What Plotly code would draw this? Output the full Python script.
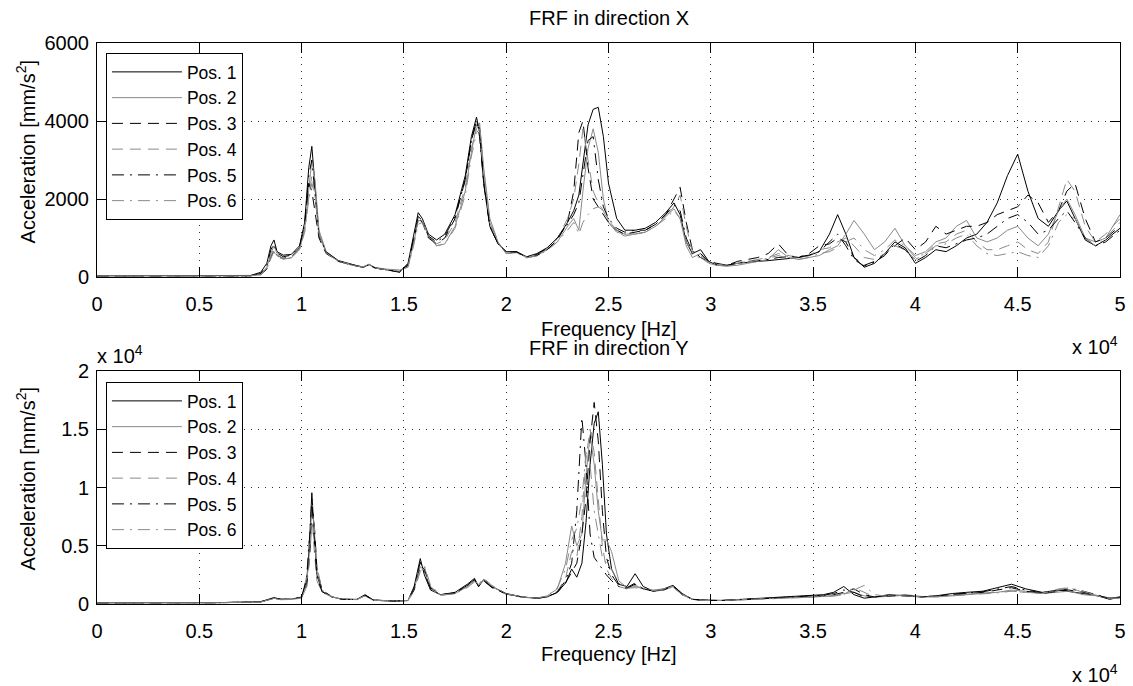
import plotly.graph_objects as go

# ---------------- data ----------------
FREQ_X = [0, 3000, 6000, 7500, 8000, 8300, 8500, 8650, 8800, 9100,
          9500, 9900, 10150, 10350, 10500, 10650, 10850, 11200, 11800, 12500,
          13000, 13300, 13600, 14200, 14800, 15200, 15450, 15700, 15900, 16200,
          16600, 17000, 17500, 18000, 18300, 18550, 18700, 18900, 19200, 19600,
          20000, 20500, 21000, 21500, 22000, 22500, 23000, 23300, 23550, 23750,
          24000, 24250, 24500, 24750, 25000, 25400, 25800, 26300, 26800, 27300,
          27800, 28200, 28500, 28800, 29100, 29500, 29900, 30300, 30800, 31300,
          31800, 32300, 32800, 33300, 33800, 34300, 34800, 35300, 35800, 36200,
          36600, 37000, 37500, 38000, 38500, 39000, 39500, 40000, 40500, 41000,
          41500, 42000, 42500, 43000, 43500, 44000, 44500, 45000, 45500, 46000,
          46500, 47000, 47400, 47800, 48300, 48800, 49300, 50000]

X_POS1 = [30, 30, 30, 40, 120, 350, 800, 950, 650, 560,
          580, 800, 1400, 2800, 3350, 2300, 1100, 650, 420, 320,
          250, 320, 230, 180, 130, 350, 1000, 1650, 1500, 1100,
          950, 1100, 1600, 2600, 3600, 4100, 3700, 2400, 1300, 850,
          650, 650, 520, 600, 750, 1000, 1400, 1700, 2100, 2900,
          3900, 4300, 4350, 3600, 2400, 1500, 1200, 1200, 1250, 1400,
          1650, 1900, 1600, 900, 600, 700, 400, 300, 300, 350,
          380, 400, 420, 450, 480, 500, 550, 650, 1100, 1600,
          1100, 500, 250, 350, 600, 900, 750, 350, 500, 700,
          650, 800, 1000, 1100, 1400, 1900, 2600, 3150, 2200, 1500,
          1300, 1700, 1950, 1500, 950, 800, 950, 1250]
X_POS2 = [30, 30, 30, 30, 80, 250, 600, 800, 600, 450,
          500, 700, 1200, 2300, 3000, 2500, 1200, 650, 400, 300,
          260, 330, 240, 200, 180, 250, 800, 1450, 1450, 1050,
          800, 850, 1300, 2200, 3200, 3900, 3950, 2800, 1500, 900,
          600, 650, 500, 550, 700, 900, 1300, 1500, 1200, 2200,
          3300, 3800, 3200, 2000, 1400, 1150, 1100, 1100, 1150, 1300,
          1550, 1750, 1500, 800, 500, 600, 350, 300, 280, 300,
          350, 400, 450, 700, 500, 450, 500, 550, 700, 800,
          1100, 1450, 1100, 700, 900, 1250, 800, 550, 650, 900,
          1000, 1300, 1450, 1000, 900, 1000, 1200, 1300, 1000, 800,
          1100, 1700, 2000, 1600, 1000, 900, 1000, 1600]
X_POS3 = [30, 30, 30, 30, 60, 200, 500, 700, 550, 480,
          520, 750, 1300, 2400, 2200, 1700, 1000, 600, 400, 300,
          250, 300, 230, 180, 120, 300, 900, 1500, 1400, 1000,
          850, 1000, 1500, 2500, 3500, 4000, 3800, 2500, 1300, 850,
          650, 650, 500, 550, 700, 950, 1400, 2200, 3700, 4000,
          2800, 2000, 1800, 1600, 1400, 1200, 1100, 1150, 1200, 1350,
          1600, 2000, 2300, 1400, 700, 500, 400, 350, 300, 400,
          450, 500, 600, 850, 550, 500, 600, 800, 850, 1000,
          900, 500, 300, 400, 600, 800, 1000, 700, 900, 1300,
          1100, 1200, 1300, 1300, 1400, 1600, 1700, 1800, 2100, 1900,
          1400, 1700, 2200, 2400, 1500, 900, 1000, 1300]
X_POS4 = [30, 30, 30, 30, 70, 220, 550, 700, 560, 470,
          510, 720, 1250, 2100, 2600, 2200, 1100, 620, 400, 310,
          260, 320, 240, 190, 150, 280, 850, 1450, 1450, 1050,
          850, 950, 1400, 2300, 3300, 3800, 3900, 2700, 1400, 850,
          620, 620, 500, 560, 720, 980, 1500, 2000, 2900, 3800,
          3000, 2200, 1900, 1700, 1400, 1150, 1050, 1100, 1150, 1300,
          1550, 1800, 2100, 1300, 650, 550, 380, 320, 300, 350,
          400, 450, 500, 600, 550, 500, 550, 700, 750, 900,
          1000, 800, 500, 450, 600, 800, 700, 450, 600, 850,
          900, 1100, 1200, 900, 700, 700, 800, 900, 700, 600,
          900, 1800, 2500, 2200, 1300, 900, 1100, 1500]
X_POS5 = [30, 30, 30, 30, 90, 300, 700, 850, 620, 520,
          560, 780, 1350, 2600, 3000, 2100, 1050, 640, 410, 310,
          250, 310, 230, 180, 140, 320, 950, 1550, 1450, 1050,
          900, 1050, 1550, 2500, 3500, 4000, 3600, 2400, 1300, 850,
          640, 640, 510, 580, 740, 1000, 1350, 1600, 1900, 2600,
          3500, 3600, 2500, 1800, 1500, 1250, 1150, 1200, 1200, 1350,
          1600, 1850, 1700, 1000, 650, 600, 400, 320, 300, 360,
          400, 420, 450, 500, 520, 520, 560, 650, 900, 1100,
          800, 450, 280, 380, 550, 850, 700, 400, 550, 800,
          750, 850, 950, 1000, 1100, 1300, 1500, 1600, 1400, 1100,
          1200, 1500, 1700, 1400, 1000, 800, 900, 1200]
X_POS6 = [30, 30, 30, 30, 60, 200, 480, 650, 520, 450,
          490, 700, 1150, 2000, 2400, 2100, 1100, 620, 400, 300,
          250, 310, 230, 180, 160, 260, 750, 1350, 1400, 1050,
          800, 850, 1250, 2100, 3100, 3700, 3800, 2700, 1450, 880,
          600, 620, 490, 540, 680, 900, 1200, 1400, 1100, 1400,
          1600, 1750, 1800, 1700, 1450, 1200, 1100, 1100, 1150, 1300,
          1500, 1700, 1500, 900, 550, 500, 350, 300, 280, 320,
          380, 430, 480, 550, 480, 450, 500, 600, 650, 750,
          900, 1000, 700, 550, 700, 950, 800, 500, 600, 800,
          850, 1000, 1100, 800, 600, 550, 600, 650, 550, 500,
          800, 1400, 1600, 1500, 1000, 800, 1000, 1400]

FREQ_Y = [0, 3000, 6000, 8000, 8400, 8650, 9000, 9500, 10000, 10250,
          10400, 10500, 10600, 10750, 11000, 11500, 12000, 12700, 13100, 13500,
          14500, 15200, 15500, 15800, 16000, 16300, 16800, 17500, 18100, 18450,
          18650, 18900, 19300, 20000, 20800, 21500, 22000, 22500, 22900, 23200,
          23450, 23700, 23900, 24100, 24300, 24500, 24700, 24900, 25150, 25500,
          25900, 26300, 26700, 27200, 27700, 28150, 28600, 29100, 29700, 30500,
          31500, 32500, 33500, 34500, 35500, 36000, 36500, 37000, 37500, 38000,
          38700, 39500, 40300, 41000, 41800, 42500, 43300, 44000, 44700, 45400,
          46200, 47000, 47500, 48200, 48900, 49500, 50000]

Y_POS1 = [100, 100, 120, 200, 400, 550, 400, 420, 600, 2000,
          5500, 9550, 6500, 2500, 1100, 600, 400, 400, 800, 350,
          250, 300, 1500, 3900, 2500, 1200, 800, 1000, 1700, 2200,
          1500, 2100, 1500, 900, 600, 500, 600, 1000, 1800, 3000,
          2300, 3500, 7000, 12000, 15500, 16500, 12000, 6000, 3000, 1700,
          1500, 2600, 1500, 1100, 1300, 1600, 900, 400, 350, 300,
          400, 500, 600, 650, 800, 1000, 1500, 800, 500, 600,
          800, 700, 600, 700, 900, 1000, 1100, 1400, 1700, 1300,
          1000, 1200, 1100, 900, 700, 400, 600]
Y_POS2 = [100, 100, 110, 180, 350, 480, 380, 400, 550, 1800,
          4800, 8500, 7000, 2800, 1100, 600, 400, 380, 700, 330,
          240, 300, 1300, 3200, 2900, 1300, 750, 900, 1500, 2000,
          1600, 2000, 1500, 850, 600, 500, 700, 1300, 3500, 6700,
          5000, 6000, 11000, 14500, 12000, 8000, 5500, 5500, 4500, 2000,
          1400, 1500, 1300, 1200, 1300, 1500, 800, 400, 300, 300,
          350, 450, 500, 550, 650, 700, 900, 1000, 700, 600,
          700, 800, 650, 600, 700, 800, 900, 1000, 1200, 1100,
          900, 1000, 1100, 800, 700, 500, 500]
Y_POS3 = [100, 100, 110, 180, 380, 500, 400, 410, 550, 1600,
          4200, 8000, 7500, 3000, 1200, 600, 400, 390, 750, 340,
          240, 300, 1200, 3300, 3000, 1400, 800, 950, 1600, 2100,
          1500, 2000, 1400, 850, 580, 500, 600, 1000, 1800, 2700,
          3500, 6000, 9000, 14000, 17300, 14000, 8000, 4000, 2500, 1600,
          1400, 1800, 1300, 1100, 1200, 1500, 800, 400, 300, 300,
          350, 450, 550, 600, 700, 800, 1000, 1300, 800, 600,
          700, 750, 600, 700, 800, 900, 1000, 1200, 1400, 1100,
          900, 1100, 1200, 1000, 700, 500, 600]
Y_POS4 = [100, 100, 110, 190, 360, 460, 380, 400, 520, 2400,
          6500, 8000, 5000, 2000, 1000, 580, 400, 380, 720, 330,
          240, 290, 1400, 3000, 3200, 1500, 750, 900, 1500, 2000,
          1700, 2100, 1500, 850, 580, 480, 650, 1100, 2200, 4500,
          4000, 7500, 12500, 15000, 13000, 9000, 5000, 3000, 2200, 1500,
          1300, 1600, 1300, 1100, 1200, 1500, 800, 400, 300, 300,
          350, 450, 500, 550, 650, 700, 800, 1400, 1000, 600,
          650, 750, 600, 650, 750, 850, 950, 1000, 1100, 1000,
          900, 1300, 1400, 1000, 700, 500, 600]
Y_POS5 = [100, 100, 120, 190, 390, 520, 400, 410, 580, 2200,
          6000, 9000, 6000, 2300, 1050, 590, 400, 390, 760, 340,
          245, 300, 1400, 3600, 2700, 1300, 780, 950, 1600, 2100,
          1500, 2000, 1450, 870, 590, 490, 620, 1050, 2000, 3500,
          8000, 16000, 12000, 6000, 4000, 3500, 3000, 2500, 2000, 1500,
          1350, 1700, 1300, 1100, 1250, 1550, 850, 420, 320, 300,
          380, 480, 560, 620, 750, 900, 1200, 1000, 600, 600,
          750, 700, 620, 680, 850, 950, 1050, 1300, 1500, 1200,
          950, 1150, 1300, 1100, 800, 500, 550]
Y_POS6 = [100, 100, 110, 170, 340, 450, 370, 390, 500, 1500,
          4000, 7000, 7200, 3200, 1200, 620, 410, 380, 700, 320,
          240, 290, 1100, 2800, 3300, 1600, 780, 880, 1400, 1900,
          1700, 2200, 1600, 880, 600, 500, 700, 1400, 3000, 5500,
          6500, 9000, 13000, 12000, 8000, 6000, 4000, 3500, 3000, 1800,
          1350, 1400, 1250, 1150, 1250, 1450, 800, 420, 300, 300,
          340, 440, 500, 550, 620, 680, 800, 1200, 1600, 800,
          650, 700, 600, 620, 700, 800, 900, 950, 1100, 1000,
          900, 1200, 1400, 1100, 700, 500, 500]

SERIES_NAMES = ["Pos. 1", "Pos. 2", "Pos. 3", "Pos. 4", "Pos. 5", "Pos. 6"]

X_TICK_VALUES = [0, 5000, 10000, 15000, 20000, 25000, 30000, 35000, 40000, 45000, 50000]
X_TICK_TEXT = ["0", "0.5", "1", "1.5", "2", "2.5", "3", "3.5", "4", "4.5", "5"]
YX_TICK_VALUES = [0, 2000, 4000, 6000]
YX_TICK_TEXT = ["0", "2000", "4000", "6000"]
YY_TICK_VALUES = [0, 5000, 10000, 15000, 20000]
YY_TICK_TEXT = ["0", "0.5", "1", "1.5", "2"]

# ---------------- styling ----------------
FONT = "Liberation Sans, Arial, Helvetica, sans-serif"
BLACK = "#000000"
GRAY = "#8a8a8a"
DASH = "11px,7px"
DASHDOT = "12px,6px,2px,6px"
STYLES = [(BLACK, "solid"), (GRAY, "solid"), (BLACK, DASH),
          (GRAY, DASH), (BLACK, DASHDOT), (GRAY, DASHDOT)]

fig = go.Figure()

x_series = [X_POS1, X_POS2, X_POS3, X_POS4, X_POS5, X_POS6]
y_series = [Y_POS1, Y_POS2, Y_POS3, Y_POS4, Y_POS5, Y_POS6]

for name, vals, (col, dash) in zip(SERIES_NAMES, x_series, STYLES):
    fig.add_trace(go.Scatter(x=FREQ_X, y=vals, mode="lines", name=name,
                             line=dict(color=col, width=1, dash=dash),
                             xaxis="x", yaxis="y", legend="legend"))
for name, vals, (col, dash) in zip(SERIES_NAMES, y_series, STYLES):
    fig.add_trace(go.Scatter(x=FREQ_Y, y=vals, mode="lines", name=name,
                             line=dict(color=col, width=1, dash=dash),
                             xaxis="x2", yaxis="y2", legend="legend2"))

axis_common = dict(showline=True, linecolor="black", linewidth=1, mirror="ticks",
                   ticks="inside", ticklen=10, tickwidth=1, tickcolor="black",
                   showgrid=True, gridcolor="#303030", gridwidth=1, griddash="1px,6px",
                   zeroline=False, ticklabeloverflow="allow",
                   tickfont=dict(family=FONT, size=20, color="black"))

# Figure fills the whole window (the default page body margin is removed below).
W, H = 1133, 686
L = 97
R = 7
T = 43
B = H - 604
ph = H - T - B
pw = W - L - R

def py(px):
    """paper y for a pixel row"""
    return (H - B - px) / ph

def pxx(px):
    """paper x for a pixel column"""
    return (px - L) / pw

legend_common = dict(xanchor="left", yanchor="top",
                     bgcolor="white", bordercolor="black", borderwidth=1,
                     font=dict(family=FONT, size=17.5, color="black"), itemwidth=70,
                     tracegroupgap=0)

fig.update_layout(
    width=W, height=H,
    margin=dict(l=L, r=R, t=T, b=B),
    paper_bgcolor="white", plot_bgcolor="white",
    font=dict(family=FONT, size=20, color="black"),
    xaxis=dict(domain=[0, 1], range=[0, 50000], anchor="y", ticklabelstandoff=9,
               tickmode="array", tickvals=X_TICK_VALUES, ticktext=X_TICK_TEXT, **axis_common),
    yaxis=dict(domain=[py(277), 1.0], range=[0, 6000], anchor="x", ticklabelstandoff=3,
               tickmode="array", tickvals=YX_TICK_VALUES, ticktext=YX_TICK_TEXT, **axis_common),
    xaxis2=dict(domain=[0, 1], range=[0, 50000], anchor="y2", ticklabelstandoff=9,
                tickmode="array", tickvals=X_TICK_VALUES, ticktext=X_TICK_TEXT, **axis_common),
    yaxis2=dict(domain=[0, py(371)], range=[0, 20000], anchor="x2", ticklabelstandoff=3,
                tickmode="array", tickvals=YY_TICK_VALUES, ticktext=YY_TICK_TEXT, **axis_common),
    legend=dict(x=pxx(106), y=py(53), **legend_common),
    legend2=dict(x=pxx(106), y=py(382), **legend_common),
    showlegend=True,
)

ann = dict(xref="paper", yref="paper", showarrow=False,
           font=dict(family=FONT, size=20, color="black"))
fig.add_annotation(text="FRF in direction X", x=0.5, y=py(18), xanchor="center", yanchor="middle", **ann)
fig.add_annotation(text="Frequency [Hz]", x=0.5, y=py(329), xanchor="center", yanchor="middle", **ann)
fig.add_annotation(text="FRF in direction Y", x=0.5, y=py(348), xanchor="center", yanchor="middle", **ann)
fig.add_annotation(text="x 10<sup>4</sup>", x=1.0, y=py(345), xanchor="right", yanchor="middle", **ann)
fig.add_annotation(text="x 10<sup>4</sup>", x=pxx(95), y=py(354), xanchor="left", yanchor="middle", **ann)
fig.add_annotation(text="Frequency [Hz]", x=0.5, y=py(654), xanchor="center", yanchor="middle", **ann)
fig.add_annotation(text="x 10<sup>4</sup>", x=1.0, y=py(673), xanchor="right", yanchor="middle", **ann)
fig.add_annotation(text="Acceleration [mm/s<sup>2</sup>]", x=pxx(25), y=py(152),
                   xanchor="center", yanchor="middle", textangle=-90, **ann)
fig.add_annotation(text="Acceleration [mm/s<sup>2</sup>]", x=pxx(25), y=py(479),
                   xanchor="center", yanchor="middle", textangle=-90, **ann)

# remove the default 8px page margin so the figure fills the 1133x686 window
fig.write_html("out.html", config={"displayModeBar": False},
               post_script="document.body.style.margin='0';document.body.style.overflow='hidden';")
